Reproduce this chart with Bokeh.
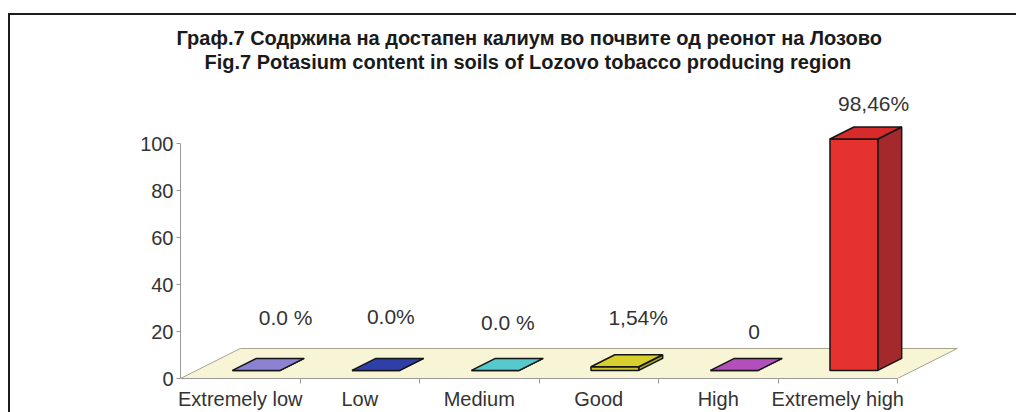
from bokeh.plotting import figure
from bokeh.models import Range1d, FixedTicker, Title, ColumnDataSource
from bokeh.core.properties import value
from bokeh.embed import file_html
from bokeh.resources import INLINE

# ---------------- data ----------------
categories = ["Extremely low", "Low", "Medium", "Good", "High", "Extremely high"]
values = [0.0, 0.0, 0.0, 1.54, 0.0, 98.46]
value_labels = ["0.0 %", "0.0%", "0.0 %", "1,54%", "0", "98,46%"]
y_ticks = [0, 20, 40, 60, 80, 100]
title_mk = "Граф.7 Содржина на достапен калиум во почвите од реонот на Лозово"
title_en = "Fig.7 Potasium content in soils of Lozovo tobacco producing region"

# ---------------- style ----------------
face_top = ["#8b82d2", "#2f3fa8", "#55c9cb", "#d6cf2e", "#b24fba", "#d82a2a"]
face_front = ["#8b82d2", "#2f3fa8", "#55c9cb", "#c9c12a", "#b24fba", "#e6322e"]
face_side = ["#6d64b0", "#24328a", "#3ea6a8", "#a59e1e", "#8e3a96", "#a3292d"]
label_dx = [0.08, -0.04, -0.06, 0.03, 0.0, 0.0]
label_dy = [1.0, 1.4, -1.2, -0.5, -5.4, -6.5]
FONT = "Liberation Sans"

PX_X = 119.5          # pixels per category
PX_Y = 2.35           # pixels per value unit
DEPTH_X = 0.5         # floor depth shift (category units)
DEPTH_Y = 12.77       # floor depth shift (value units)
F0, F1 = 0.27, 0.67   # bar depth extent (fraction of floor depth)
HALF_W = 0.2

FRAME_W, FRAME_H = 823, 306

p = figure(frame_width=FRAME_W, frame_height=FRAME_H,
           x_range=Range1d(0, FRAME_W / PX_X), y_range=Range1d(0, FRAME_H / PX_Y),
           output_backend="svg", toolbar_location=None,
           min_border_left=170, min_border_right=13, min_border_top=57, min_border_bottom=26,
           outline_line_color=None, background_fill_color="white", border_fill_color="white")
p.styles = {"border-top": "2px solid #1c1c1c", "border-left": "2px solid #1c1c1c",
            "margin-top": "13px", "margin-left": "8px"}
p.xgrid.visible = False
p.ygrid.visible = False

title_style = dict(align="left", standoff=0, text_font=FONT, text_font_size="20px",
                   text_font_style="bold", text_color="#1a1a1a")
# the title added later sits nearer the plot frame
p.title = Title(text=title_mk, offset=-4, **title_style)
p.add_layout(Title(text=title_en, offset=24, **title_style), "above")

n = len(categories)

def proj(x, y, f):
    return x + f * DEPTH_X, y + f * DEPTH_Y

# floor
fx, fy = zip(proj(0, 0, 0), proj(n, 0, 0), proj(n, 0, 1), proj(0, 0, 1))
p.patch(list(fx), list(fy), fill_color="#f8f4d6", line_color="#a8a48c", line_width=1)

# bars
xs_side, ys_side, xs_front, ys_front, xs_top, ys_top = [], [], [], [], [], []
for i, v in enumerate(values):
    c = i + 0.5
    l, r = c - HALF_W, c + HALF_W
    pts = [proj(r, 0, F0), proj(r, 0, F1), proj(r, v, F1), proj(r, v, F0)]
    xs_side.append([a for a, b in pts]); ys_side.append([b for a, b in pts])
    pts = [proj(l, 0, F0), proj(r, 0, F0), proj(r, v, F0), proj(l, v, F0)]
    xs_front.append([a for a, b in pts]); ys_front.append([b for a, b in pts])
    pts = [proj(l, v, F0), proj(r, v, F0), proj(r, v, F1), proj(l, v, F1)]
    xs_top.append([a for a, b in pts]); ys_top.append([b for a, b in pts])

p.patches(xs_side, ys_side, fill_color=face_side, line_color="#151515", line_width=1.5)
p.patches(xs_front, ys_front, fill_color=face_front, line_color="#151515", line_width=1.5)
p.patches(xs_top, ys_top, fill_color=face_top, line_color="#151515", line_width=1.5)

# value labels
lsrc = ColumnDataSource(dict(
    x=[i + 0.5 + 0.3 + label_dx[i] for i in range(n)],
    y=[values[i] + 25 + label_dy[i] for i in range(n)],
    t=value_labels))
p.text(x="x", y="y", text="t", source=lsrc, text_align="center", text_baseline="middle",
       text_font=value(FONT), text_font_size="21px", text_color="#333333")

# axes
xa = p.xaxis[0]
xa.ticker = FixedTicker(ticks=[i + 0.5 for i in range(n)], minor_ticks=[i + 1 for i in range(n)])
xa.major_label_overrides = {i + 0.5: categories[i] for i in range(n)}
xa.bounds = (0, n)
xa.major_tick_in = 0
xa.major_tick_out = 0
xa.minor_tick_in = 0
xa.minor_tick_out = 5
xa.minor_tick_line_color = "#9a9a9a"
xa.axis_line_color = "#9a9a9a"
xa.major_label_standoff = 4
xa.major_label_text_font = FONT
xa.major_label_text_font_size = "20px"
xa.major_label_text_color = "#333333"

ya = p.yaxis[0]
ya.ticker = FixedTicker(ticks=y_ticks)
ya.bounds = (0, 100)
ya.major_tick_in = 0
ya.major_tick_out = 4
ya.minor_tick_out = 0
ya.minor_tick_in = 0
ya.major_tick_line_color = "#9a9a9a"
ya.axis_line_color = "#9a9a9a"
ya.major_label_standoff = 3
ya.major_label_text_font = FONT
ya.major_label_text_font_size = "20px"
ya.major_label_text_color = "#333333"

open("out.html", "w").write(file_html(p, INLINE))
